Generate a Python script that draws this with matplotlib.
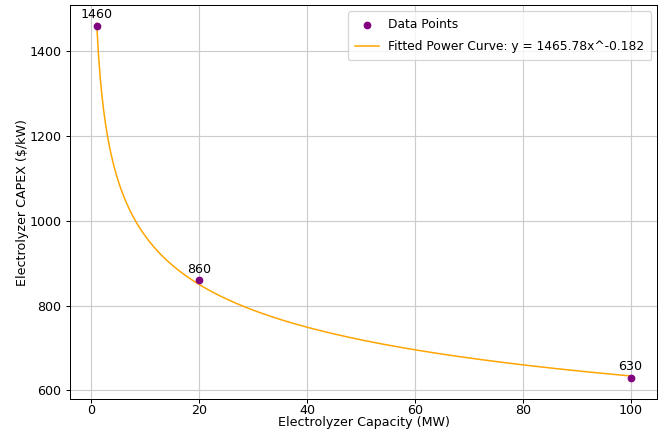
import numpy as np
import matplotlib
matplotlib.use("Agg")
import matplotlib.pyplot as plt

# data points
capacity = [1, 20, 100]
capex = [1460, 860, 630]

# fitted power curve coefficients (from legend)
fit_a = 1465.78
fit_b = -0.182

x_fit = np.linspace(1, 100, 300)
y_fit = fit_a * x_fit ** fit_b

dpi = 91
fig = plt.figure(figsize=(671 / dpi, 435 / dpi), dpi=dpi)
ax = fig.add_axes([0.1043, 0.0821, 0.8753, 0.9057])

ax.scatter(capacity, capex, color="purple", s=26, zorder=3, label="Data Points")
ax.plot(x_fit, y_fit, color="orange", lw=1.2,
        label=f"Fitted Power Curve: y = {fit_a:.2f}x^{fit_b:.3f}")

for cx, cy in zip(capacity, capex):
    ax.annotate(str(cy), (cx, cy), textcoords="offset points", xytext=(0, 6),
                ha="center")

ax.set_xlabel("Electrolyzer Capacity (MW)", labelpad=-0.5)
ax.set_ylabel("Electrolyzer CAPEX ($/kW)", labelpad=0)
ax.set_yticks([600, 800, 1000, 1200, 1400])
ax.set_ylim(579, 1508)
ax.tick_params(axis="x", pad=0.5, length=3)
ax.grid(True, color="#cccccc", lw=0.9)
ax.legend(loc="upper right", fontsize=9.7, labelspacing=0.75, borderpad=0.55,
          handlelength=1.9)

fig.savefig("out.png", dpi=dpi)
